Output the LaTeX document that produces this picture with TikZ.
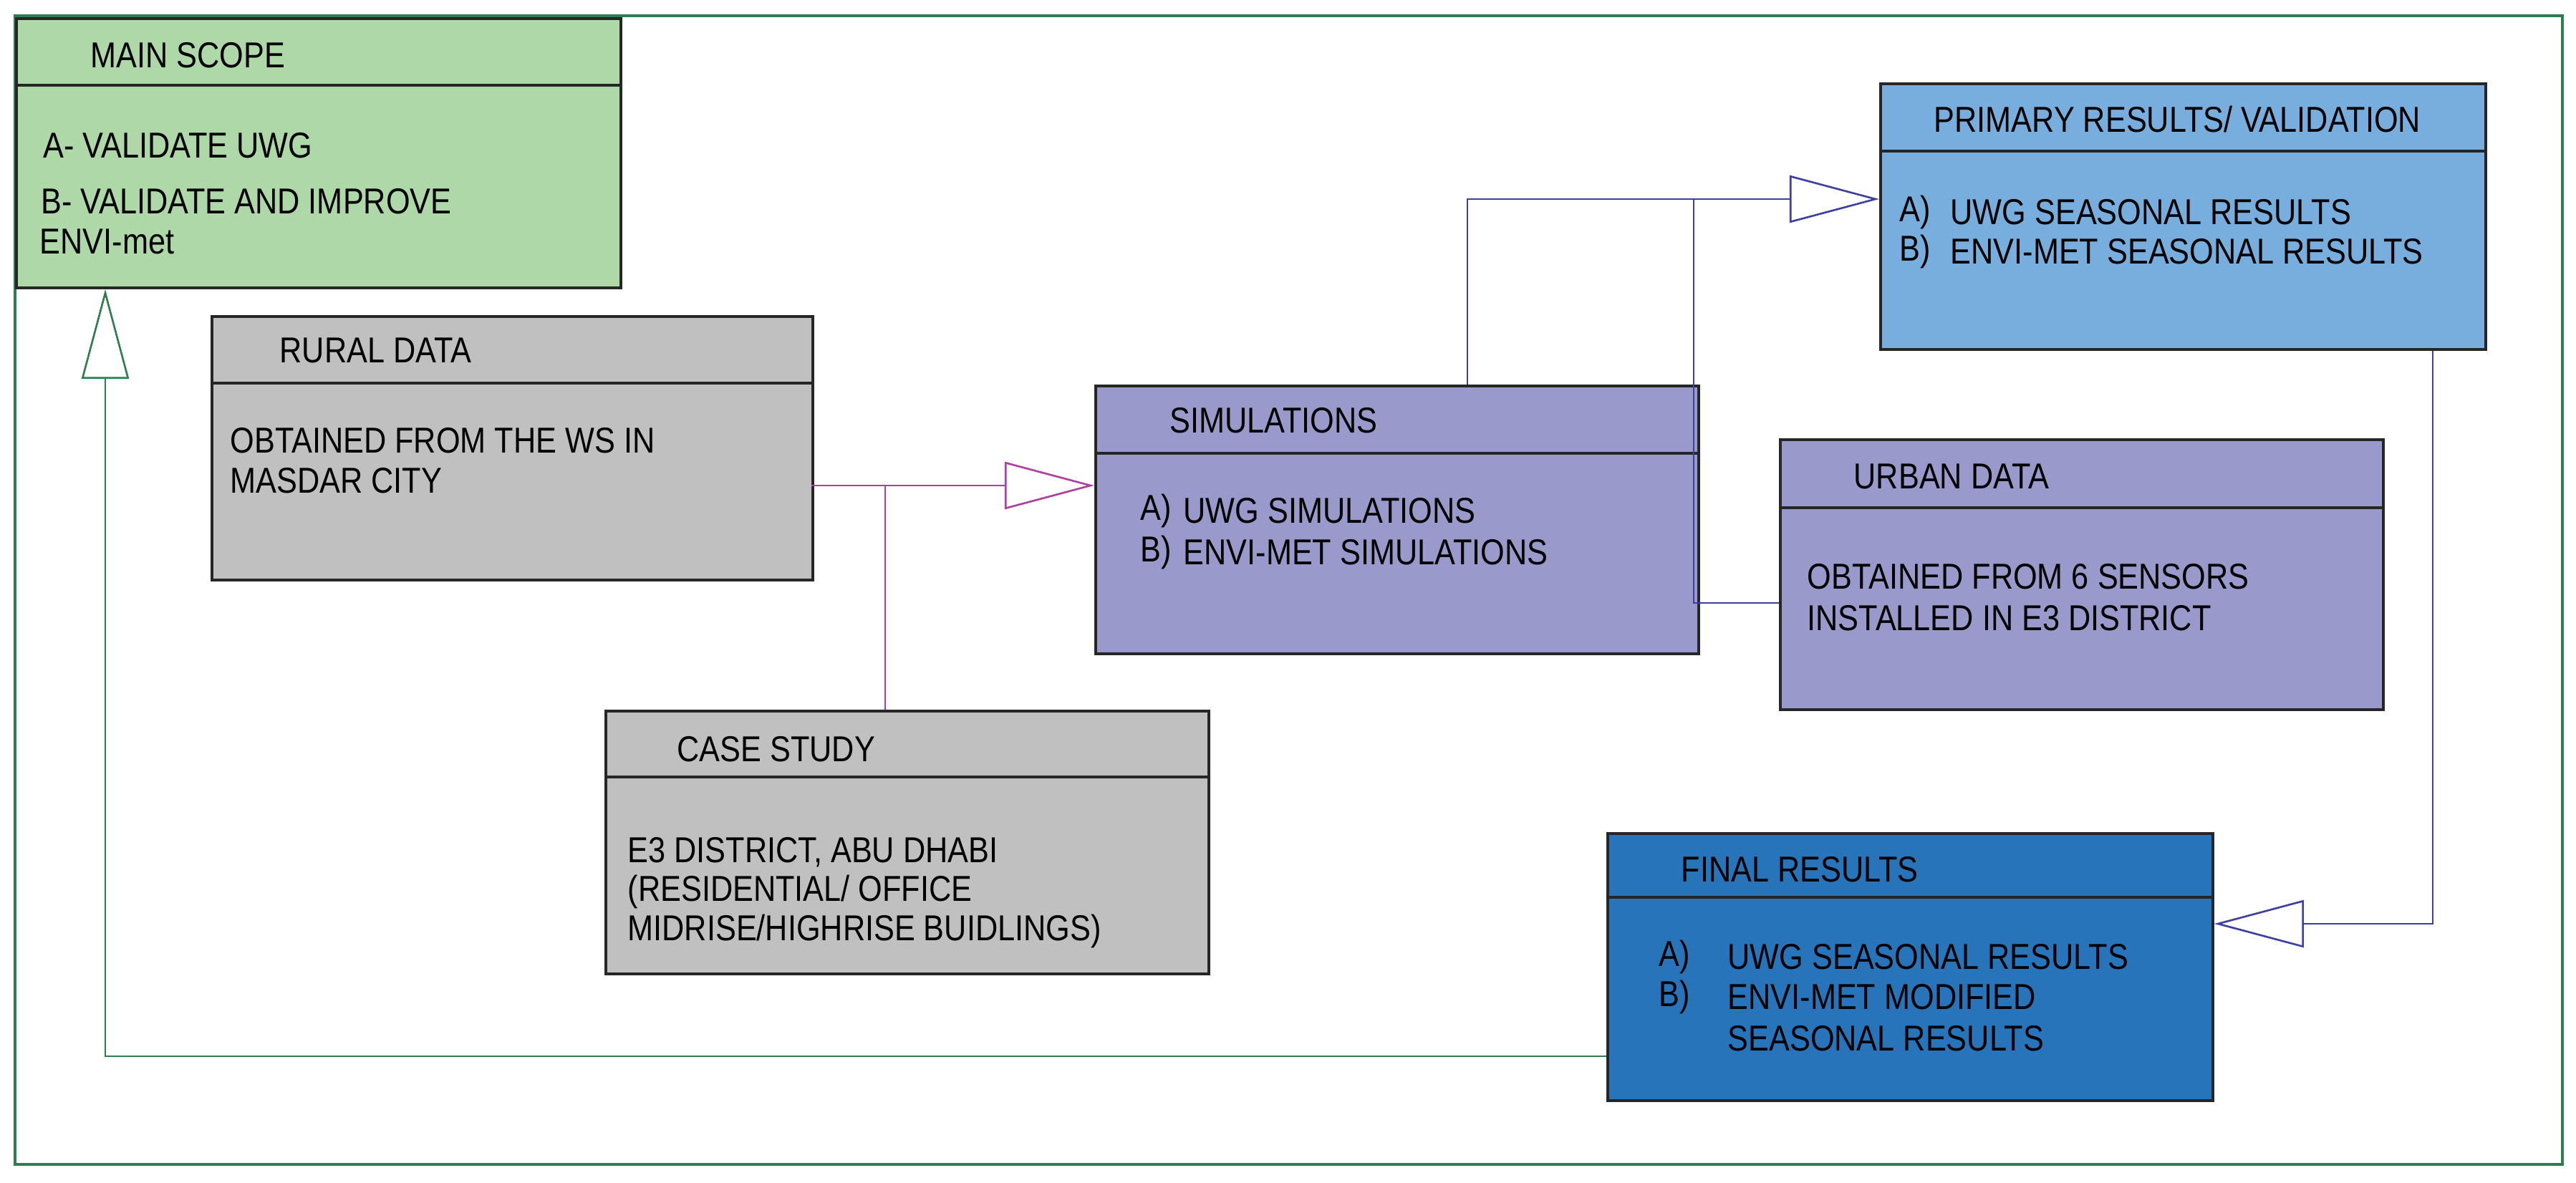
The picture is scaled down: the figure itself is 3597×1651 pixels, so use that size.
\documentclass[tikz,border=0pt]{standalone}
\usepackage{fontspec}
\setmainfont{Liberation Sans}[FakeStretch=0.86]
\usetikzlibrary{arrows.meta,calc}
\definecolor{gfill}{HTML}{AED8A8}
\definecolor{grfill}{HTML}{C0C0C0}
\definecolor{pfill}{HTML}{9999CC}
\definecolor{prfill}{HTML}{78AEDE}
\definecolor{ffill}{HTML}{2874BB}
\definecolor{frame}{HTML}{2E7D4F}
\definecolor{bline}{HTML}{3F3FA0}
\definecolor{mline}{HTML}{B040A0}
\tikzset{
  box/.style={draw=black!85,line width=1.1pt,rectangle,anchor=north west,inner sep=0pt},
  txt/.style={anchor=west,inner sep=0pt,font=\fontsize{14.3}{16}\selectfont,align=left},
  conn/.style={line width=0.75pt},
  tip/.style={-{Triangle[open,length=1.25cm,width=0.66cm,fill=white]}},
}
\newcommand\mybox[7]{%
  \node[box,fill=#7,minimum width=#4*0.01cm,minimum height=#5*0.01cm] (#1) at (#2,#3) {};
  \draw[black!85,line width=1.1pt] ($(#1.north west)+(0,#6)$) -- ($(#1.north east)+(0,#6)$);}
\begin{document}
\begin{tikzpicture}[x=0.01cm,y=-0.01cm]
\useasboundingbox (0,0) rectangle (3597,1651);
\draw[frame,line width=1pt] (21,22) rectangle (3578,1626);
\mybox{ms}{21}{24}{844}{376}{95}{gfill}
\mybox{rd}{294}{440}{839}{368}{95}{grfill}
\mybox{cs}{844}{991}{842}{367}{94}{grfill}
\mybox{sim}{1528}{537}{842}{374}{96}{pfill}
\mybox{ud}{2484}{612}{842}{377}{97}{pfill}
\mybox{pr}{2624}{115}{845}{371}{96}{prfill}
\mybox{fin}{2243}{1162}{845}{373}{91}{ffill}
% texts
\node[txt] (t1) at (126,77) {MAIN SCOPE};
\node[txt] (t2) at (60,203) {A- VALIDATE UWG};
\node[txt] (t3) at (57,281) {B- VALIDATE AND IMPROVE};
\node[txt] (t4) at (55,337) {ENVI-met};
\node[txt] (t5) at (390,489) {RURAL DATA};
\node[txt] (t6) at (321,615) {OBTAINED FROM THE WS IN};
\node[txt] (t7) at (321,671) {MASDAR CITY};
\node[txt] (t8) at (945,1046) {CASE STUDY};
\node[txt] (t9) at (876,1190) {E3 DISTRICT, ABU DHABI};
\node[txt] (t10) at (876,1245) {(RESIDENTIAL/ OFFICE};
\node[txt] (t11) at (876,1300) {MIDRISE/HIGHRISE BUIDLINGS)};
\node[txt] (t12) at (1633,587) {SIMULATIONS};
\node[txt] (t13) at (1592,713) {A)};
\node[txt] (t14) at (1652,713) {UWG SIMULATIONS};
\node[txt] (t15) at (1592,771) {B)};
\node[txt] (t16) at (1652,771) {ENVI-MET SIMULATIONS};
\node[txt] (t17) at (2588,665) {URBAN DATA};
\node[txt] (t18) at (2523,805) {OBTAINED FROM 6 SENSORS};
\node[txt] (t19) at (2523,863) {INSTALLED IN E3 DISTRICT};
\node[txt] (t20) at (2700,167) {PRIMARY RESULTS/ VALIDATION};
\node[txt] (t21) at (2652,296) {A)};
\node[txt] (t22) at (2723,296) {UWG SEASONAL RESULTS};
\node[txt] (t23) at (2652,351) {B)};
\node[txt] (t24) at (2723,351) {ENVI-MET SEASONAL RESULTS};
\node[txt] (t25) at (2347,1214) {FINAL RESULTS};
\node[txt] (t26) at (2316,1336) {A)};
\node[txt] (t27) at (2412,1336) {UWG SEASONAL RESULTS};
\node[txt] (t28) at (2316,1392) {B)};
\node[txt] (t29) at (2412,1392) {ENVI-MET MODIFIED};
\node[txt] (t30) at (2412,1450) {SEASONAL RESULTS};
% connectors
\coordinate (gA) at (2243,1475);
\coordinate (gB) at (147,1475);
\draw[frame,conn,tip] (gA) -- (gB) -- (gB |- ms.south);
\coordinate (mA) at (1133,678);
\coordinate (mJ) at (1236,678);
\draw[mline,conn,tip] (mA) -- (mA -| sim.west);
\draw[mline,conn] (mJ) -- (mJ |- cs.north);
\coordinate (bA) at (2049,278);
\coordinate (bJ) at (2365,278);
\coordinate (bK) at (2365,842);
\draw[bline,conn,tip] (bA |- sim.north) -- (bA) -- (bA -| pr.west);
\draw[bline,conn] (bJ) -- (bK) -- (bK -| ud.west);
\coordinate (cA) at (3397,1290);
\draw[bline,conn,tip] (cA |- pr.south) -- (cA) -- (cA -| fin.east);
\end{tikzpicture}
\end{document}
